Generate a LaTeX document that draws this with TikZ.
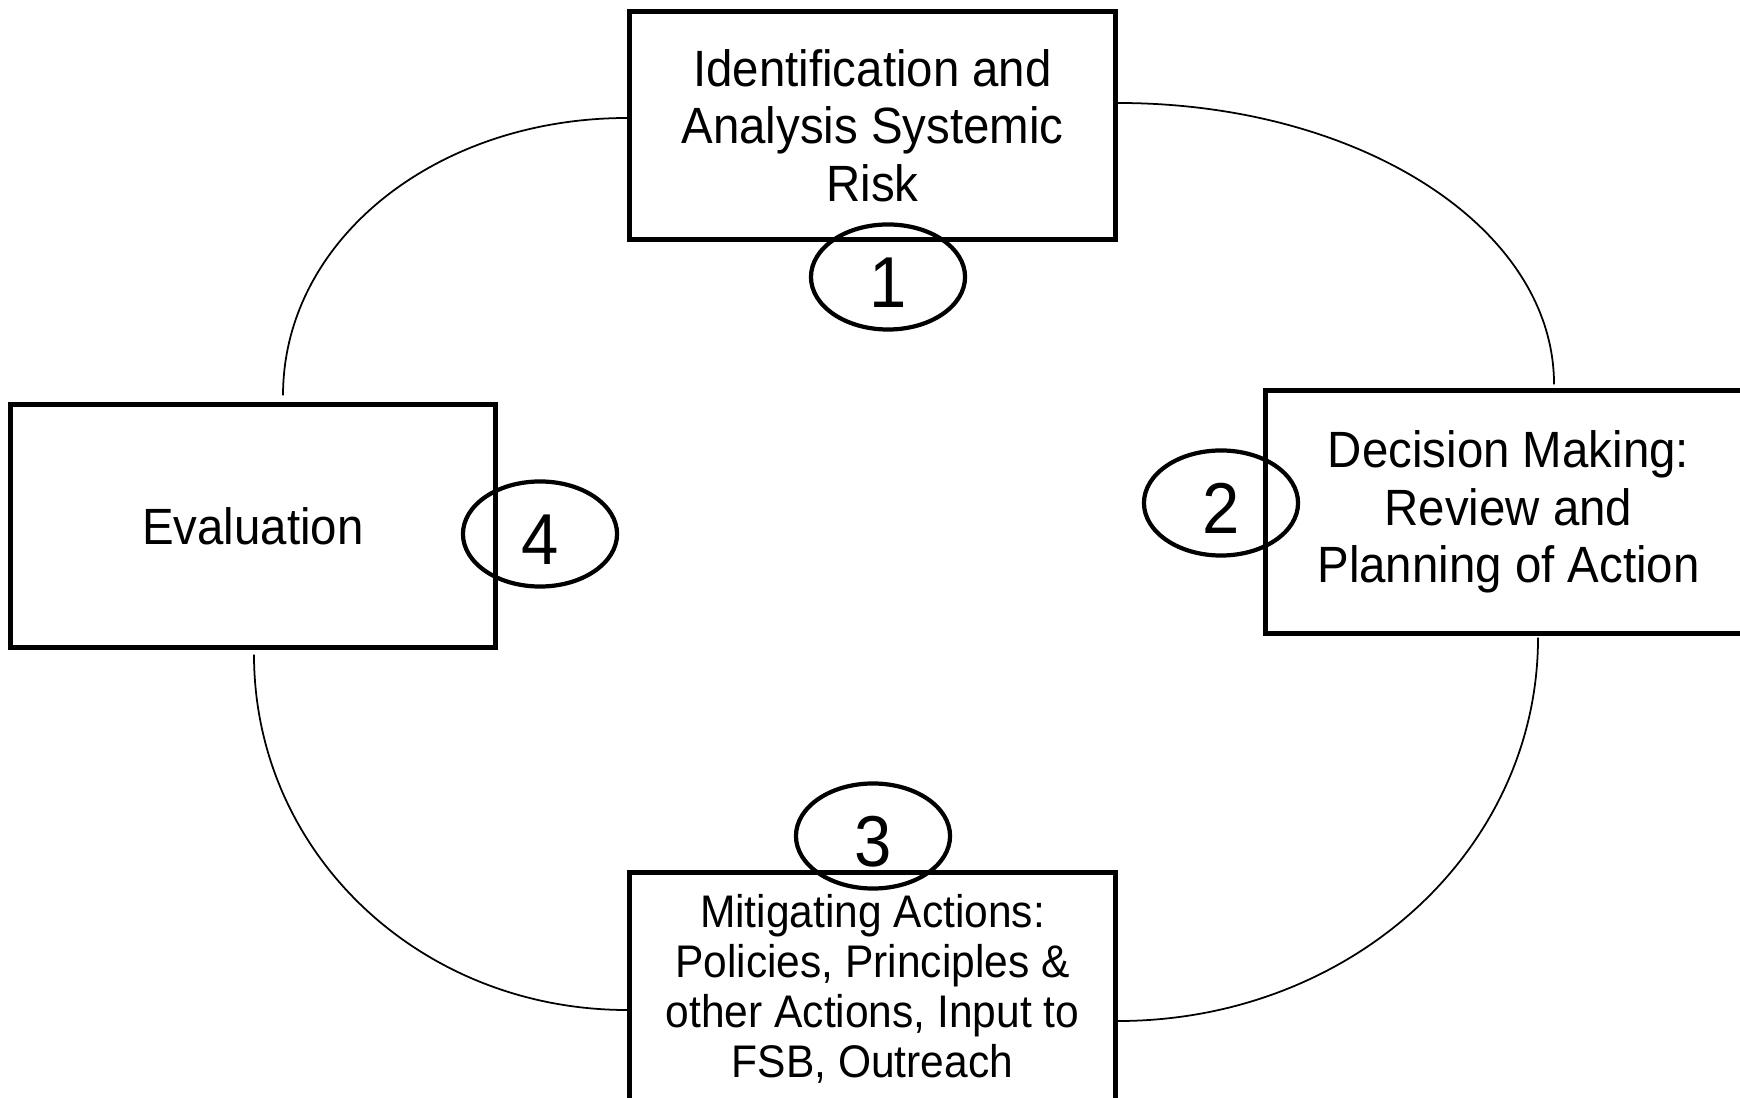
\documentclass[tikz,border=0pt]{standalone}
\usepackage{fontspec}
\setmainfont[FakeStretch=0.93]{Liberation Sans}
\usetikzlibrary{shapes.geometric}
\tikzset{
  stagebox/.style={draw=black, line width=1.45pt, rectangle, align=center,
    minimum width=4.85cm, inner sep=0pt,
    font=\fontsize{14.5pt}{16.4pt}\selectfont},
  numoval/.style={draw=black, line width=1.2pt, ellipse, inner sep=0pt,
    minimum width=1.54cm, minimum height=1.05cm,
    text height=17.4pt, text depth=0pt,
    font=\fontsize{20.5pt}{22pt}\selectfont},
  loopline/.style={draw=black, line width=0.5pt}
}
\begin{document}
\begin{tikzpicture}[x=0.01cm, y=-0.01cm]
\useasboundingbox (0,0) rectangle (1740,1098);
% boxes
\node[stagebox, minimum height=2.27cm] (ident) at (872.5,125.5)
  {Identification and\\Analysis Systemic\\Risk};
\node[stagebox, minimum height=2.42cm] (eval) at (253,526) {Evaluation};
\node[stagebox, minimum height=2.42cm] (decis) at (1508.5,512)
  {Decision Making:\\Review and\\Planning of Action};
\node[stagebox, minimum height=2.32cm,
  font=\fontsize{13pt}{14.2pt}\selectfont] (mitig) at (872.5,989)
  {Mitigating Actions:\\Policies, Principles \&\\other Actions, Input to\\FSB, Outreach};
% numbered ovals
\node[numoval] (n1) at (888,277) {1};
\node[numoval] (n2) at (1221,503) {2};
\node[numoval] (n3) at (873,836) {3};
\node[numoval] (n4) at (540,534) {4};
% connector end points on the boxes
\coordinate (a1) at ([yshift=0.075cm]ident.west);
\coordinate (a2) at ([xshift=0.3cm,yshift=0.07cm]eval.north);
\coordinate (b1) at ([yshift=0.225cm]ident.east);
\coordinate (b2) at ([xshift=0.455cm,yshift=0.04cm]decis.north);
\coordinate (c1) at ([xshift=0.295cm,yshift=-0.02cm]decis.south);
\coordinate (c2) at ([yshift=-0.32cm]mitig.east);
\coordinate (d1) at ([xshift=0.01cm,yshift=-0.05cm]eval.south);
\coordinate (d2) at ([yshift=-0.21cm]mitig.west);
% loop curves
\draw[loopline] (a1) .. controls +(-192,0) and +(0,-155) .. (a2);
\draw[loopline] (b1) .. controls +(242,0) and +(0,-157) .. (b2);
\draw[loopline] (c1) .. controls +(0,213) and +(233,0) .. (c2);
\draw[loopline] (d1) .. controls +(0,198) and +(-208,0) .. (d2);
\end{tikzpicture}
\end{document}
